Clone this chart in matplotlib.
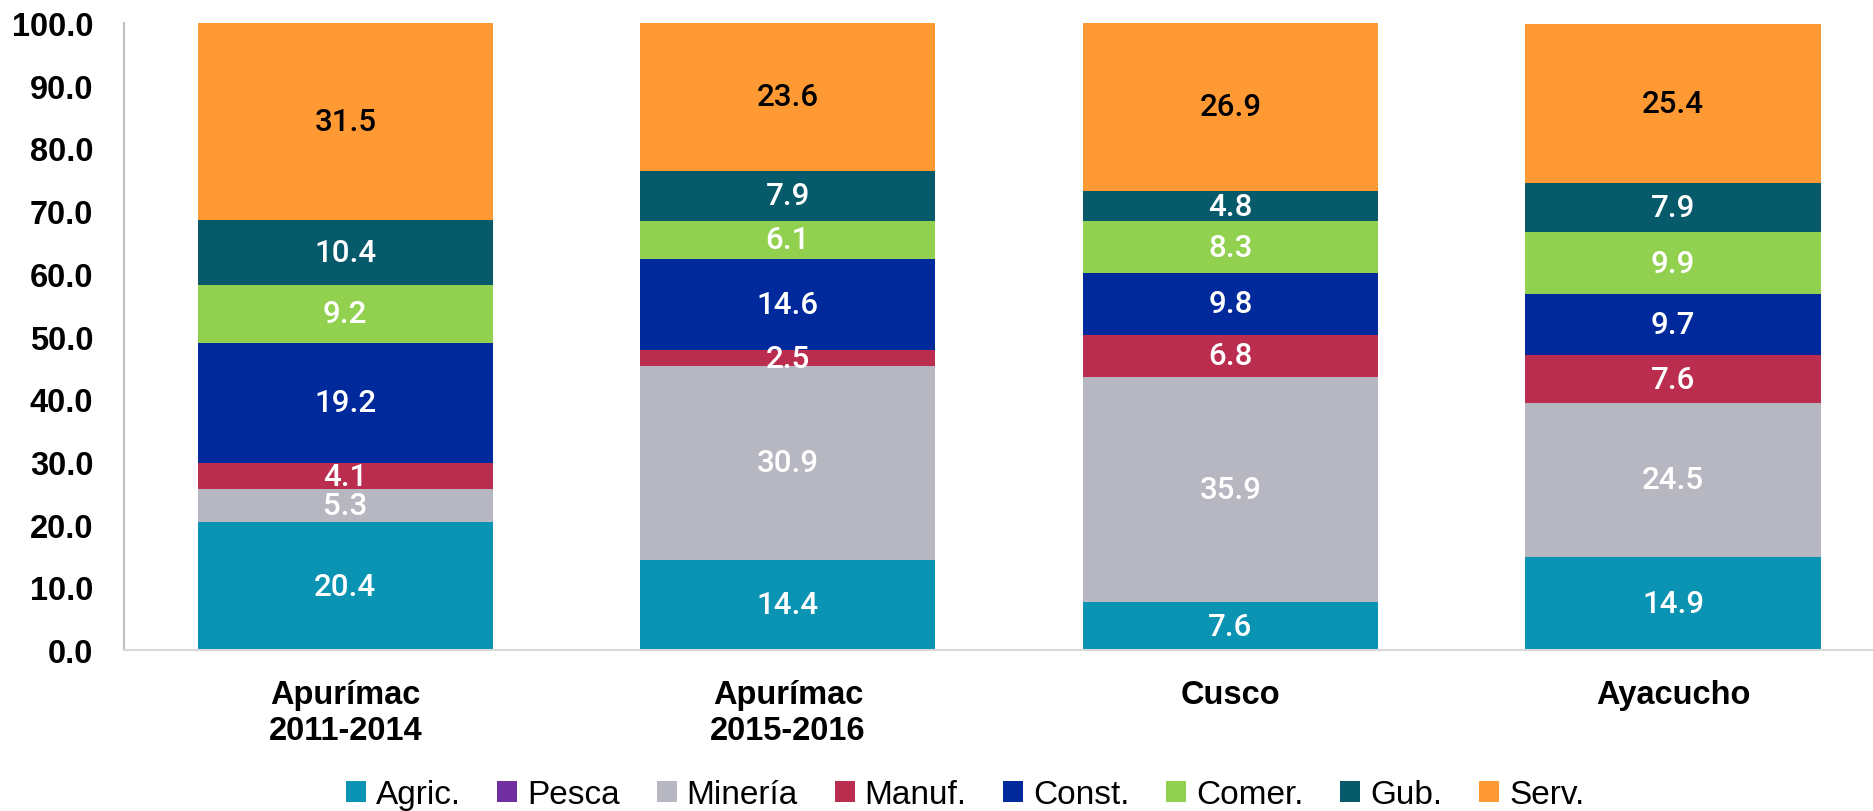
import numpy as np
import matplotlib
matplotlib.use("Agg")
import matplotlib.pyplot as plt
from matplotlib import font_manager

regions = ["Apurímac\n2011-2014", "Apurímac\n2015-2016", "Cusco", "Ayacucho"]
sectors = ["Agric.", "Pesca", "Minería", "Manuf.", "Const.", "Comer.", "Gub.", "Serv."]

agric = [20.4, 14.4, 7.6, 14.9]
pesca = [0.0, 0.0, 0.0, 0.0]
mineria = [5.3, 30.9, 35.9, 24.5]
manuf = [4.1, 2.5, 6.8, 7.6]
const = [19.2, 14.6, 9.8, 9.7]
comer = [9.2, 6.1, 8.3, 9.9]
gub = [10.4, 7.9, 4.8, 7.9]
serv = [31.5, 23.6, 26.9, 25.4]

colors = ["#0A93B2", "#7030A0", "#B7B7C1", "#BA2D4E", "#002A9C", "#92D050", "#075A6A", "#FF9933"]
text_colors = ["white"] * 7 + ["black"]

available = {f.name for f in font_manager.fontManager.ttflist}
narrow = "Liberation Sans Narrow" if "Liberation Sans Narrow" in available else "Liberation Sans"
num_font = "Roboto" if "Roboto" in available else "DejaVu Sans"

fig = plt.figure(figsize=(18.74, 8.12), dpi=100)
ax = fig.add_axes([124 / 1874, 161 / 812, 1 - 124 / 1874, 627 / 812])

series = [agric, pesca, mineria, manuf, const, comer, gub, serv]
x = np.arange(len(regions))
bottom = np.zeros(len(regions))
width = 0.667
for name, vals, col, tcol in zip(sectors, series, colors, text_colors):
    vals = np.array(vals)
    ax.bar(x, vals, width, bottom=bottom, color=col, label=name, linewidth=0)
    for xi, b, v in zip(x, bottom, vals):
        if v > 0:
            ax.text(xi, b + v / 2, f"{v:.1f}", ha="center", va="center",
                    color=tcol, fontsize=22.5, fontweight="medium", family=num_font)
    bottom += vals

ax.set_xlim(-0.5, 3.454)
ax.set_ylim(0, 100)
ax.set_yticks(np.arange(0, 101, 10))
ax.set_yticklabels([f"{v:.1f}" for v in np.arange(0, 101, 10)],
                   fontsize=23.5, fontweight="bold", family=narrow)
ax.set_xticks(x)
ax.set_xticklabels(regions, fontsize=23.5, fontweight="bold", family=narrow, linespacing=1.2)
ax.tick_params(axis="both", length=0)
ax.tick_params(axis="y", pad=22)
ax.tick_params(axis="x", pad=21)

for s in ["top", "right"]:
    ax.spines[s].set_visible(False)
ax.spines["left"].set_color("#BFBFBF")
ax.spines["left"].set_linewidth(1.5)
ax.spines["bottom"].set_color("#D9D9D9")
ax.spines["bottom"].set_linewidth(1.5)

fig.legend(loc="center", bbox_to_anchor=(965 / 1874, 16 / 812), ncol=8, frameon=False,
           prop={"family": narrow, "size": 24}, handlelength=0.6, handleheight=0.6,
           handletextpad=0.3, columnspacing=1.1, borderaxespad=0)

fig.savefig("out.png", dpi=100)
